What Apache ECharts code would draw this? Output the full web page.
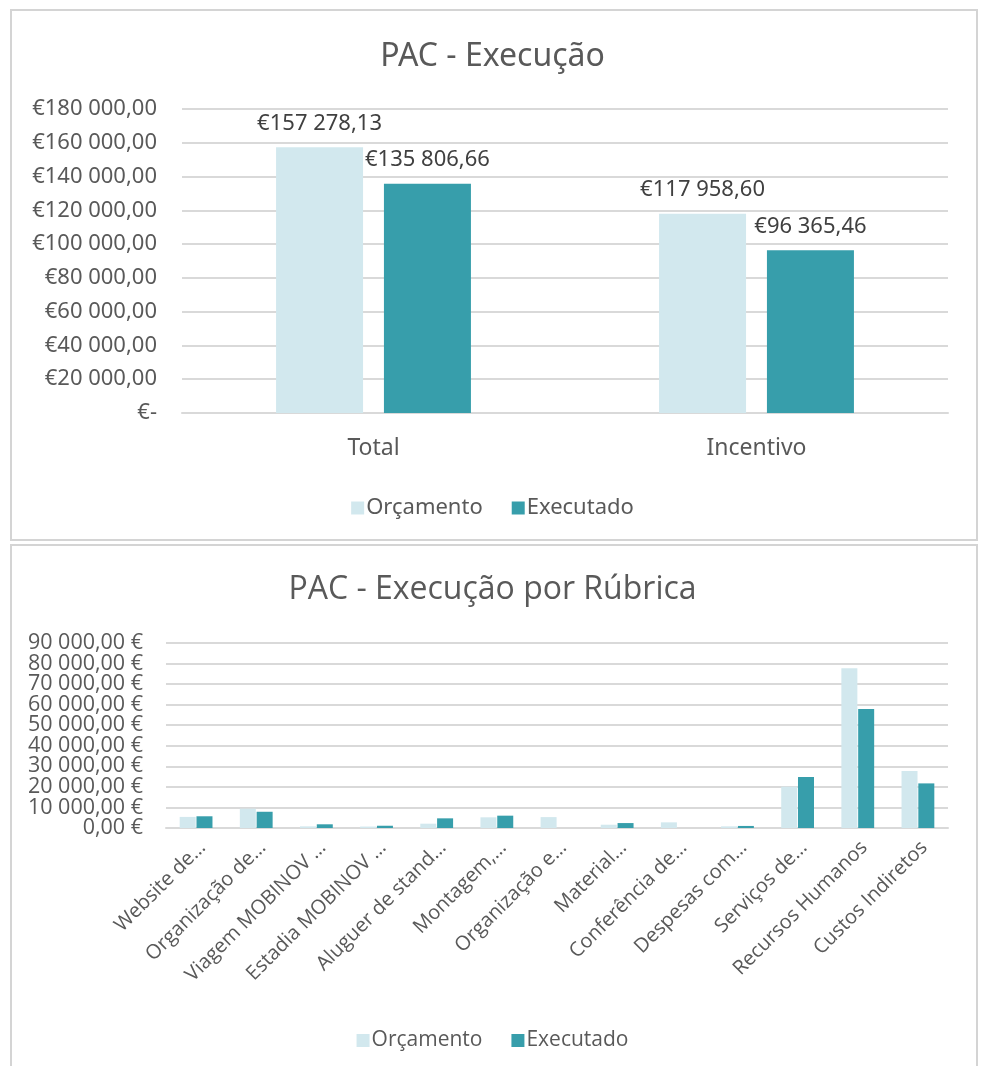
<!DOCTYPE html>
<html>
<head>
<meta charset="utf-8">
<script src="https://cdn.jsdelivr.net/npm/echarts@6/dist/echarts.min.js"></script>
<style>
  html, body { margin: 0; padding: 0; background: #ffffff; }
  #chart { width: 985px; height: 1066px; }
</style>
</head>
<body>
<div id="chart"></div>
<script>
// Top chart: totals
const topCategories = ['Total', 'Incentivo'];
const topOrcamento = [157278.13, 117958.60];
const topExecutado = [135806.66, 96365.46];
const topTicks = [0, 20000, 40000, 60000, 80000, 100000, 120000, 140000, 160000, 180000];

// Bottom chart: per budget line
const rubricas = [
  'Website de…', 'Organização de…', 'Viagem MOBINOV …', 'Estadia MOBINOV …',
  'Aluguer de stand…', 'Montagem,…', 'Organização e…', 'Material…',
  'Conferência de…', 'Despesas com…', 'Serviços de…', 'Recursos Humanos', 'Custos Indiretos'
];
const rubOrcamento = [5400, 9400, 800, 700, 2100, 5200, 5300, 1600, 2750, 800, 20100, 77700, 27700];
const rubExecutado = [5700, 7900, 1800, 1100, 4700, 6000, 0, 2400, 0, 1000, 24800, 57900, 21700];
const rubTicks = [0, 10000, 20000, 30000, 40000, 50000, 60000, 70000, 80000, 90000];

const seriesNames = ['Orçamento', 'Executado'];
const LIGHT = '#D2E8EE';
const DARK = '#379EAB';
const TEXT = '#595959';
const GRID = '#D9D9D9';

function groupThousands(intStr) {
  return intStr.replace(/\B(?=(\d{3})+(?!\d))/g, ' ');
}
function money(v) {
  const s = Math.abs(v).toFixed(2).split('.');
  return groupThousands(s[0]) + ',' + s[1];
}
function euroPrefix(v) { return v === 0 ? '€-' : '€' + money(v); }
function euroSuffix(v) { return money(v) + ' €'; }

// The bottom value labels sit closer together than their text height, so they are
// split over two stacked axes: one prints the even ticks, the other the odd ones.
const rubStep = rubTicks[1] - rubTicks[0];
function rubLabel(parity) {
  return v => (Math.round(v / rubStep) % 2 === parity ? euroSuffix(v) : '');
}

const chart = echarts.init(document.getElementById('chart'), null, { renderer: 'canvas' });

const FONT_TOP = 'Noto Sans';
const FONT_BOT = 'Open Sans';

const rubAxisBase = {
  type: 'value', gridIndex: 1, position: 'left', offset: 0,
  min: rubTicks[0], max: rubTicks[rubTicks.length - 1], interval: rubStep,
  axisLine: { show: false }, axisTick: { show: false }
};

chart.setOption({
  animation: false,
  backgroundColor: '#ffffff',
  graphic: [
    { type: 'rect', shape: { x: 11, y: 10, width: 966, height: 530 },
      style: { fill: 'none', stroke: '#D4D4D4', lineWidth: 2 } },
    { type: 'rect', shape: { x: 11, y: 545, width: 966, height: 530 },
      style: { fill: 'none', stroke: '#D4D4D4', lineWidth: 2 } }
  ],
  title: [
    { text: 'PAC - Execução', left: 'center', top: 36,
      textStyle: { fontFamily: FONT_TOP, fontSize: 32, fontWeight: 'normal', color: TEXT } },
    { text: 'PAC - Execução por Rúbrica', left: 'center', top: 569,
      textStyle: { fontFamily: FONT_BOT, fontSize: 32, fontWeight: 'normal', color: TEXT } }
  ],
  legend: [
    { data: seriesNames, left: 'center', top: 492, itemWidth: 13, itemHeight: 13, itemGap: 29,
      icon: 'rect', textStyle: { fontFamily: FONT_TOP, fontSize: 22, color: TEXT, padding: [0, 0, 0, -3] } },
    { data: seriesNames, left: 'center', top: 1025, itemWidth: 13, itemHeight: 13, itemGap: 29,
      icon: 'rect', textStyle: { fontFamily: FONT_BOT, fontSize: 21, color: TEXT, padding: [0, 0, 0, -3] } }
  ],
  grid: [
    { left: 182, right: 37, top: 109, bottom: 653 },
    { left: 166, right: 37, top: 643, bottom: 238 }
  ],
  xAxis: [
    { type: 'category', gridIndex: 0, data: topCategories,
      axisTick: { show: false },
      axisLine: { lineStyle: { color: GRID, width: 2 } },
      axisLabel: { fontFamily: FONT_TOP, fontSize: 23, color: TEXT, margin: 24 } },
    { type: 'category', gridIndex: 1, data: rubricas,
      axisTick: { show: false },
      axisLine: { lineStyle: { color: GRID, width: 2 } },
      axisLabel: { rotate: 45, margin: 10, interval: 0,
        formatter: v => '{r|' + v + '}',
        rich: { r: { fontFamily: FONT_BOT, fontSize: 20, color: TEXT, padding: [18, 0, 0, 0] } } } }
  ],
  yAxis: [
    { type: 'value', gridIndex: 0, min: topTicks[0], max: topTicks[topTicks.length - 1], interval: topTicks[1] - topTicks[0],
      axisLine: { show: false }, axisTick: { show: false },
      splitLine: { lineStyle: { color: GRID, width: 2 } },
      axisLabel: { fontFamily: FONT_TOP, fontSize: 22, color: TEXT, margin: 25, formatter: euroPrefix,
        showMinLabel: true, showMaxLabel: true } },
    Object.assign({}, rubAxisBase, {
      splitLine: { lineStyle: { color: GRID, width: 2 } },
      axisLabel: { fontFamily: FONT_BOT, fontSize: 21.5, color: TEXT, margin: 23,
        showMinLabel: true, showMaxLabel: false, formatter: rubLabel(0) } }),
    Object.assign({}, rubAxisBase, {
      splitLine: { show: false },
      axisLabel: { fontFamily: FONT_BOT, fontSize: 21.5, color: TEXT, margin: 23,
        showMinLabel: false, showMaxLabel: true, formatter: rubLabel(1) } })
  ],
  series: [
    { name: seriesNames[0], type: 'bar', xAxisIndex: 0, yAxisIndex: 0, data: topOrcamento,
      barWidth: 87, barGap: '24%', itemStyle: { color: LIGHT },
      label: { show: true, position: 'top', distance: 13, fontFamily: FONT_TOP, fontSize: 22, color: '#404040',
        formatter: p => euroPrefix(p.value) } },
    { name: seriesNames[1], type: 'bar', xAxisIndex: 0, yAxisIndex: 0, data: topExecutado,
      barWidth: 87, barGap: '24%', itemStyle: { color: DARK },
      label: { show: true, position: 'top', distance: 13, fontFamily: FONT_TOP, fontSize: 22, color: '#404040',
        formatter: p => euroPrefix(p.value) } },
    { name: seriesNames[0], type: 'bar', xAxisIndex: 1, yAxisIndex: 1, data: rubOrcamento,
      barWidth: 16, barGap: '5%', itemStyle: { color: LIGHT } },
    { name: seriesNames[1], type: 'bar', xAxisIndex: 1, yAxisIndex: 1, data: rubExecutado,
      barWidth: 16, barGap: '5%', itemStyle: { color: DARK } }
  ]
});
</script>
</body>
</html>
